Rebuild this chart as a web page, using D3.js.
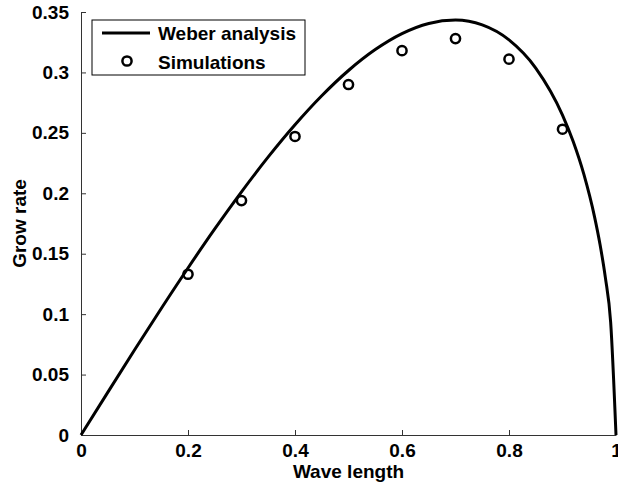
<!DOCTYPE html>
<html>
<head>
<meta charset="utf-8">
<title>Grow rate</title>
<script src="https://cdn.jsdelivr.net/npm/d3@7/dist/d3.min.js"></script>
<style>
  body { margin: 0; background: #fff; }
  svg text { font-family: "Liberation Sans", Arial, sans-serif; font-weight: bold; fill: #000; }
</style>
</head>
<body>
<svg width="618" height="491"></svg>
<script>
// Weber analysis curve
var waveX  = [0, 0.05, 0.1, 0.15, 0.2, 0.25, 0.3, 0.35, 0.4, 0.45, 0.5, 0.55, 0.6, 0.65, 0.7, 0.75, 0.8, 0.85, 0.9, 0.92, 0.94, 0.96, 0.97, 0.98, 0.99, 1];
var weberY = [0, 0.0353, 0.0703, 0.1047, 0.1382, 0.1705, 0.2012, 0.2301, 0.2567, 0.2807, 0.3016, 0.3189, 0.3321, 0.3405, 0.3433, 0.3393, 0.3269, 0.3036, 0.2647, 0.2428, 0.2156, 0.1803, 0.1580, 0.1306, 0.0934, 0];

// Simulations
var simX = [0.2, 0.3, 0.4, 0.5, 0.6, 0.7, 0.8, 0.9];
var simY = [0.133, 0.194, 0.247, 0.290, 0.318, 0.328, 0.311, 0.253];

var xTicks = [0, 0.2, 0.4, 0.6, 0.8, 1];
var xTickLabels = ["0", "0.2", "0.4", "0.6", "0.8", "1"];
var yTicks = [0, 0.05, 0.1, 0.15, 0.2, 0.25, 0.3, 0.35];
var yTickLabels = ["0", "0.05", "0.1", "0.15", "0.2", "0.25", "0.3", "0.35"];

var legendNames = ["Weber analysis", "Simulations"];

var svg = d3.select("svg");
var gauche = 81, droite = 616, haut = 12, bas = 435;

var x = d3.scaleLinear().domain([0, 1]).range([gauche, droite]);
var y = d3.scaleLinear().domain([0, 0.35]).range([bas, haut]);

// axes (ticks inward, matlab style)
var axeX = d3.axisBottom(x)
    .tickValues(xTicks)
    .tickFormat(function (d, i) { return xTickLabels[i]; })
    .tickSizeInner(-5).tickSizeOuter(0).tickPadding(12);
var axeY = d3.axisLeft(y)
    .tickValues(yTicks)
    .tickFormat(function (d, i) { return yTickLabels[i]; })
    .tickSizeInner(-5).tickSizeOuter(0).tickPadding(12);

var gx = svg.append("g").attr("transform", "translate(0," + bas + ")").call(axeX);
var gy = svg.append("g").attr("transform", "translate(" + gauche + ",0)").call(axeY);

[gx, gy].forEach(function (g) {
    g.selectAll("text").style("font-size", "19px").attr("fill", "#000");
    g.selectAll("line").attr("stroke", "#333");
    g.select(".domain").attr("stroke", "#333");
});
gx.selectAll("text").attr("dy", "0.5em");

// courbe
var ligne = d3.line()
    .x(function (d) { return x(d[0]); })
    .y(function (d) { return y(d[1]); })
    .curve(d3.curveMonotoneX);

svg.append("path")
    .datum(d3.zip(waveX, weberY))
    .attr("d", ligne)
    .attr("fill", "none")
    .attr("stroke", "#000")
    .attr("stroke-width", 3);

// points
svg.selectAll("circle.sim")
    .data(d3.zip(simX, simY))
    .enter()
    .append("circle")
    .classed("sim", true)
    .attr("cx", function (d) { return x(d[0]); })
    .attr("cy", function (d) { return y(d[1]); })
    .attr("r", 4.6)
    .attr("fill", "none")
    .attr("stroke", "#000")
    .attr("stroke-width", 2.5);

// titres des axes
svg.append("text")
    .attr("x", (gauche + droite) / 2)
    .attr("y", 478)
    .attr("text-anchor", "middle")
    .style("font-size", "19px")
    .text("Wave length");

svg.append("text")
    .attr("transform", "translate(26," + ((haut + bas) / 2) + ") rotate(-90)")
    .attr("text-anchor", "middle")
    .style("font-size", "19px")
    .text("Grow rate");

// legende
var leg = svg.append("g");
leg.append("rect")
    .attr("x", 92).attr("y", 20)
    .attr("width", 213).attr("height", 55)
    .attr("fill", "#fff")
    .attr("stroke", "#000")
    .attr("stroke-width", 1);
leg.append("line")
    .attr("x1", 102).attr("x2", 150)
    .attr("y1", 33).attr("y2", 33)
    .attr("stroke", "#000")
    .attr("stroke-width", 3);
leg.append("circle")
    .attr("cx", 127).attr("cy", 61)
    .attr("r", 4.6)
    .attr("fill", "none")
    .attr("stroke", "#000")
    .attr("stroke-width", 2.5);
leg.selectAll("text")
    .data(legendNames)
    .enter()
    .append("text")
    .attr("x", 158)
    .attr("y", function (d, i) { return 40 + i * 29; })
    .style("font-size", "19px")
    .text(function (d) { return d; });
</script>
</body>
</html>
